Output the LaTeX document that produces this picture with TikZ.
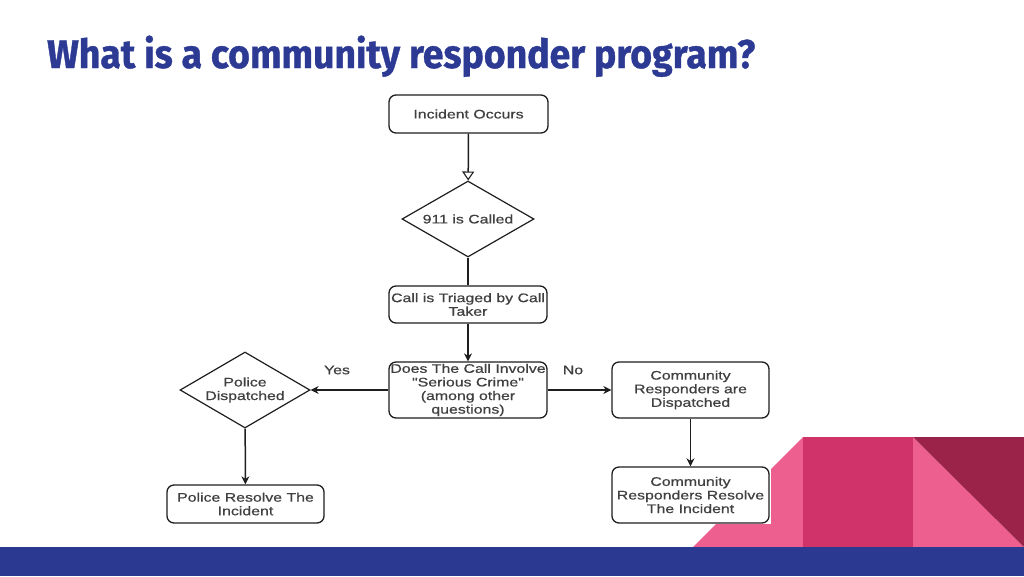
\documentclass[tikz,border=0pt]{standalone}
\usepackage{fontspec}
\setmainfont{Liberation Sans}
\newfontfamily\flowfont[FakeStretch=1.28,FakeBold=0.6]{Liberation Sans}
\newfontfamily\titlefont[FakeBold=1]{Fira Sans}
\usetikzlibrary{shapes.geometric,arrows.meta}
\definecolor{titleblue}{HTML}{2C3A94}
\definecolor{barblue}{HTML}{2B3990}
\definecolor{lpink}{HTML}{EC5F8E}
\definecolor{dpink}{HTML}{D0336A}
\definecolor{maroon}{HTML}{9B2349}
\definecolor{txtgray}{HTML}{404040}
\definecolor{linecol}{HTML}{1E1E1E}
\tikzset{
  flowtext/.style={text=txtgray, font=\flowfont\fontsize{12.4}{13.6}\selectfont, align=center, inner sep=0pt},
  box/.style={flowtext, draw=linecol, line width=1.3pt, rounded corners=7pt, fill=white},
  decision/.style={flowtext, draw=linecol, line width=1.2pt, shape=diamond, fill=white},
  conn/.style={draw=linecol, line width=1.5pt},
  arr/.style={conn, -{Stealth[length=8pt,width=8pt,inset=2.5pt]}},
  openarr/.style={conn, -{Triangle[open,length=9pt,width=12pt,line width=1.1pt]}},
  lbl/.style={text=txtgray, font=\flowfont\fontsize{12.4}{13.6}\selectfont, inner sep=0pt}
}
\begin{document}
\begin{tikzpicture}[x=1pt,y=-1pt]
\useasboundingbox (0,0) rectangle (1024,576);
\fill[white] (0,0) rectangle (1024,576);
% decoration
\fill[lpink] (693,547) -- (803,437) -- (913,437) -- (1024,547) -- cycle;
\fill[dpink] (803,437) rectangle (913,547);
\fill[maroon] (913,437) -- (1024,437) -- (1024,547) -- cycle;
\fill[barblue] (0,547) rectangle (1024,576);
% flowchart image background
\fill[white] (160,88) rectangle (771,524);
% title
\node[anchor=base west, text=titleblue, inner sep=0pt] (title) at (47,68)
  {\resizebox{708pt}{\height}{\titlefont\bfseries\fontsize{40}{40}\selectfont What is a community responder program?}};
% nodes
\node[box, minimum width=159pt, minimum height=38pt] (inc) at (468.5,114) {Incident Occurs};
\node[decision, minimum width=132pt, minimum height=76pt, aspect=1.74] (call) at (468,219) {911 is Called};
\node[box, minimum width=158pt, minimum height=37pt] (triage) at (468,304.5) {Call is Triaged by Call\\Taker};
\node[box, minimum width=158pt, minimum height=56pt] (serious) at (468,390) {Does The Call Involve\\"Serious Crime"\\(among other\\questions)};
\node[decision, minimum width=130pt, minimum height=76pt, aspect=1.7] (pdisp) at (245,390) {Police\\Dispatched};
\node[box, minimum width=157pt, minimum height=38pt] (pres) at (245.5,504) {Police Resolve The\\Incident};
\node[box, minimum width=157pt, minimum height=56pt] (cdisp) at (690.5,390) {Community\\Responders are\\Dispatched};
\node[box, minimum width=157pt, minimum height=56pt] (cres) at (690.5,495) {Community\\Responders Resolve\\The Incident};
% labels
\node[lbl] (yes) at (337,370) {Yes};
\node[lbl] (no) at (573,370) {No};
% connectors
\draw[openarr] (inc) -- (call);
\draw[conn] (call) -- (triage);
\draw[arr] (triage) -- (serious);
\draw[arr] (serious) -- (pdisp);
\draw[arr] (serious) -- (cdisp);
\draw[arr] (pdisp) -- (pres);
\draw[arr] (cdisp) -- (cres);
\end{tikzpicture}
\end{document}
